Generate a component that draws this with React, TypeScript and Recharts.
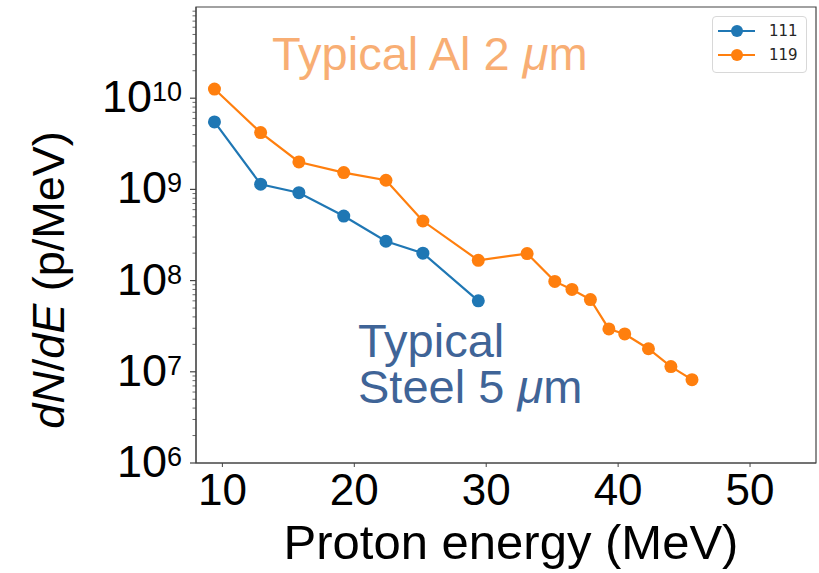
import React from "react";
import { LineChart, Line, XAxis, YAxis, Legend, ReferenceArea } from "recharts";

// proton spectra
const energy111 = [9.4, 12.9, 15.8, 19.2, 22.4, 25.2, 29.4];
const dnde111 = [5.5e9, 1.14e9, 9.2e8, 5.1e8, 2.7e8, 2.0e8, 6.0e7];
const energy119 = [
  9.4, 12.9, 15.8, 19.2, 22.4, 25.2, 29.4, 33.1, 35.2, 36.5, 37.9, 39.3, 40.5,
  42.3, 44.0, 45.6,
];
const dnde119 = [
  1.26e10, 4.2e9, 2.0e9, 1.53e9, 1.26e9, 4.5e8, 1.67e8, 1.98e8, 9.8e7, 8.0e7,
  6.2e7, 2.95e7, 2.6e7, 1.79e7, 1.14e7, 8.2e6,
];
const seriesNames = ["111", "119"];
const seriesColors = ["#1f77b4", "#ff7f0e"];
const xTicks = [10, 20, 30, 40, 50];
const yDecades = [1e6, 1e7, 1e8, 1e9, 1e10];

const data111 = energy111.map((x, i) => ({ x, y: dnde111[i] }));
const data119 = energy119.map((x, i) => ({ x, y: dnde119[i] }));

// major + minor log ticks
const yTicks: number[] = [];
yDecades.forEach((d) => {
  for (let m = 1; m <= 9; m++) yTicks.push(d * m);
});

const AXIS = "#444";
const FONT = "'Liberation Sans', Arial, sans-serif";

function YTick({ x, y, payload }: any) {
  const v = payload.value;
  const lg = Math.log10(v);
  const exp = Math.round(lg);
  const major = Math.abs(lg - exp) < 1e-6;
  return (
    <g>
      <line
        x1={x - (major ? 6 : 3.5)}
        x2={x}
        y1={y}
        y2={y}
        stroke={AXIS}
        strokeWidth={major ? 1.2 : 0.8}
      />
      {major && (
        <text x={x - 14} y={y + 14} textAnchor="end" fontFamily={FONT} fill="#000">
          <tspan fontSize={45}>10</tspan>
          <tspan fontSize={27} dy={-11}>
            {exp}
          </tspan>
        </text>
      )}
    </g>
  );
}

function XTick({ x, y, payload }: any) {
  return (
    <g>
      <line x1={x} x2={x} y1={y} y2={y + 4} stroke={AXIS} strokeWidth={1} />
      <text x={x} y={y + 42} textAnchor="middle" fontFamily={FONT} fontSize={44} fill="#000">
        {payload.value}
      </text>
    </g>
  );
}

function LegendBox() {
  return (
    <div
      style={{
        width: 95,
        height: 57,
        border: "1px solid #d8d8d8",
        borderRadius: 4,
        background: "#fff",
        boxSizing: "border-box",
        position: "relative",
      }}
    >
      {seriesNames.map((n, i) => (
        <div
          key={n}
          style={{
            position: "absolute",
            left: 0,
            top: 3 + i * 24,
            height: 22,
            display: "flex",
            alignItems: "center",
          }}
        >
          <svg width={50} height={22}>
            <line x1={5} x2={42} y1={11} y2={11} stroke={seriesColors[i]} strokeWidth={2} />
            <circle cx={24} cy={11} r={6} fill={seriesColors[i]} />
          </svg>
          <span
            style={{
              fontFamily: "'DejaVu Sans', sans-serif",
              fontSize: 15,
              color: "#262626",
              marginLeft: 6,
            }}
          >
            {n}
          </span>
        </div>
      ))}
    </div>
  );
}

export default function App() {
  return (
    <div style={{ position: "absolute", left: 0, top: 0 }}>
      <LineChart width={819} height={573} margin={{ top: 7, right: 3, bottom: 0, left: 0 }}>
        <XAxis
          dataKey="x"
          type="number"
          domain={[8, 55]}
          ticks={xTicks}
          allowDataOverflow
          height={110}
          tickSize={0}
          tickMargin={0}
          tickLine={false}
          axisLine={{ stroke: AXIS }}
          tick={<XTick />}
          interval={0}
        />
        <YAxis
          dataKey="y"
          type="number"
          scale="log"
          domain={[1e6, 1e11]}
          ticks={yTicks}
          allowDataOverflow
          width={196}
          tickSize={0}
          tickMargin={0}
          tickLine={false}
          axisLine={{ stroke: AXIS }}
          tick={<YTick />}
          interval={0}
        />
        <ReferenceArea
          x1={8}
          x2={55}
          y1={1e6}
          y2={1e11}
          fill="none"
          stroke={AXIS}
          strokeWidth={1.2}
        />
        <Line
          data={data111}
          dataKey="y"
          name={seriesNames[0]}
          stroke={seriesColors[0]}
          strokeWidth={2.2}
          dot={{ r: 6.5, fill: seriesColors[0], stroke: seriesColors[0], strokeWidth: 0 }}
          activeDot={false}
          isAnimationActive={false}
        />
        <Line
          data={data119}
          dataKey="y"
          name={seriesNames[1]}
          stroke={seriesColors[1]}
          strokeWidth={2.2}
          dot={{ r: 6.5, fill: seriesColors[1], stroke: seriesColors[1], strokeWidth: 0 }}
          activeDot={false}
          isAnimationActive={false}
        />
        <Legend
          layout="horizontal"
          verticalAlign="middle"
          align="center"
          wrapperStyle={{ left: 712, top: 16, width: 95 }}
          content={() => <LegendBox />}
        />
        <text x={272} y={70} fontFamily={FONT} fontSize={47} fill="#f8ae74">
          Typical Al 2 <tspan fontStyle="italic">μ</tspan>m
        </text>
        <text fontFamily={FONT} fontSize={47} fill="#3f6497">
          <tspan x={358} y={357}>
            Typical
          </tspan>
          <tspan x={358} y={403}>
            Steel 5 <tspan fontStyle="italic">μ</tspan>m
          </tspan>
        </text>
        <text x={511} y={559} textAnchor="middle" fontFamily={FONT} fontSize={49} fill="#000">
          Proton energy (MeV)
        </text>
        <text
          x={64}
          y={280}
          transform="rotate(-90 64 280)"
          textAnchor="middle"
          fontFamily={FONT}
          fontSize={45}
          fill="#000"
        >
          <tspan fontStyle="italic">dN</tspan>/<tspan fontStyle="italic">dE</tspan> (p/MeV)
        </text>
      </LineChart>
    </div>
  );
}
